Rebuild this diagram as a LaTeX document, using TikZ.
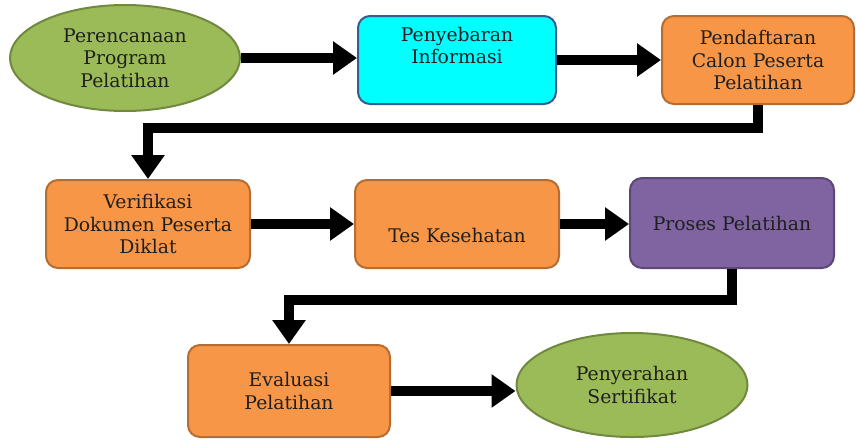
\documentclass[tikz,border=0pt]{standalone}
\usepackage{fontspec}
\setmainfont{DejaVu Serif}
\usepackage{tikz}
\usetikzlibrary{shapes.geometric,arrows.meta}

\definecolor{hijau}{HTML}{9BBB59}
\definecolor{hijaugaris}{HTML}{71893F}
\definecolor{biru}{HTML}{00FFFF}
\definecolor{birugaris}{HTML}{385D8A}
\definecolor{oranye}{HTML}{F79646}
\definecolor{oranyegaris}{HTML}{B66D31}
\definecolor{ungu}{HTML}{8064A2}
\definecolor{ungugaris}{HTML}{5C4776}
\newcommand{\hurufalur}{\fontsize{9.4}{11.2}\selectfont}

\begin{document}
\begin{tikzpicture}[x=0.5pt,y=0.5pt]

  \fill[white] (0,0) rectangle (856,441);
  \useasboundingbox (0,0) rectangle (856,441);

  \tikzstyle{every node}=[font=\hurufalur,align=center,text=black!88]
  \tikzstyle{kotak}=[rectangle,rounded corners=6pt,draw,line width=1pt,
    minimum width=102pt,minimum height=44pt,inner sep=2pt]
  \tikzstyle{elips}=[ellipse,draw,line width=1pt,fill=hijau,draw=hijaugaris,
    minimum width=115pt,minimum height=53pt,inner sep=1pt]
  \tikzstyle{alur}=[line width=5pt,line join=miter,
    -{Triangle[length=12pt,width=16pt]}]

  \node[elips] (plan) at (125,383)
    {Perencanaan \\ Program \\ Pelatihan};
  \node[kotak,fill=biru,draw=birugaris,minimum width=99pt] (info) at (457,381)
    {Penyebaran \\ Informasi \\ \strut};
  \node[kotak,fill=oranye,draw=oranyegaris,minimum width=96pt] (daftar) at (758,381)
    {Pendaftaran \\ Calon Peserta \\ Pelatihan};
  \node[kotak,fill=oranye,draw=oranyegaris] (verif) at (148,217)
    {Verifikasi \\ Dokumen Peserta \\ Diklat};
  \node[kotak,fill=oranye,draw=oranyegaris] (tes) at (457,217)
    {\strut \\ Tes Kesehatan};
  \node[kotak,fill=ungu,draw=ungugaris,minimum height=45pt] (proses) at (732,218)
    {Proses Pelatihan};
  \node[kotak,fill=oranye,draw=oranyegaris,minimum width=101pt,minimum height=46pt] (eval) at (289,50)
    {Evaluasi \\ Pelatihan};
  \node[elips,minimum width=115.5pt,minimum height=52pt] (serah) at (632,56)
    {Penyerahan \\ Sertifikat};

  \coordinate (belok1) at (0,313);
  \coordinate (belok2) at (0,141);

  \draw[alur] (plan.east) -- (plan.east -| info.west);
  \draw[alur] (info.east) -- (info.east -| daftar.west);
  \draw[alur] (daftar.south) |- (verif.north |- belok1) -- (verif.north);
  \draw[alur] (verif.east) -- (verif.east -| tes.west);
  \draw[alur] (tes.east) -- (tes.east -| proses.west);
  \draw[alur] (proses.south) |- (eval.north |- belok2) -- (eval.north);
  \draw[alur] (eval.east) -- (eval.east -| serah.west);

\end{tikzpicture}
\end{document}
